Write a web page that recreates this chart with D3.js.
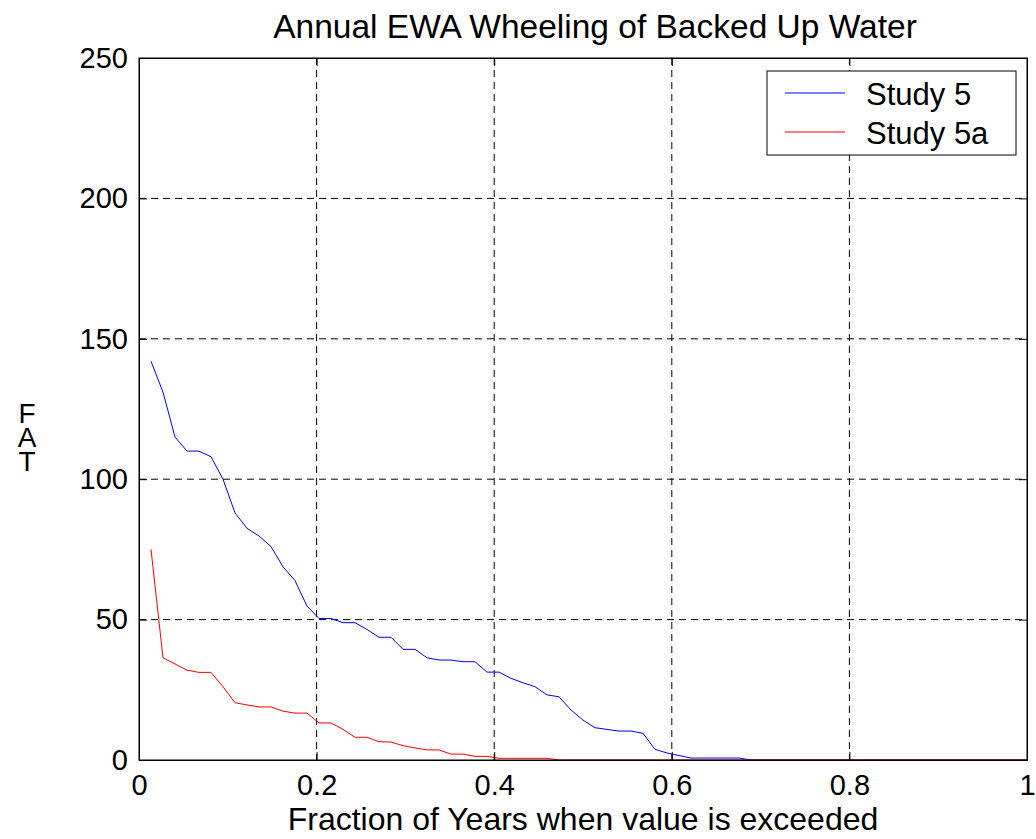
<!DOCTYPE html>
<html><head><meta charset="utf-8">
<script src="https://cdn.jsdelivr.net/npm/d3@7"></script>
<style>body{margin:0;background:#fff}svg{display:block}text{font-family:"Liberation Sans",Arial,sans-serif}</style>
</head><body>
<svg id="c" width="1036" height="839"></svg>
<script>
const study5 = [142,131,115,110,110,108,100,88,82.5,79.8,76,68.8,63.9,54.8,50.4,50.4,48.9,48.9,46.5,43.7,43.7,39.4,39.4,36.4,35.6,35.6,35,35,31.3,31.3,29.1,27.5,26.1,23.2,22.5,17.8,14.2,11.5,10.9,10.3,10.3,9.5,3.8,2.5,1.6,0.7,0.7,0.7,0.7,0.7,0,0,0,0,0,0,0,0,0,0,0,0,0,0,0,0,0,0,0,0,0,0,0,0];
const study5a = [75,36.4,34.2,32,31.2,31.2,26.1,20.4,19.6,18.9,18.9,17.4,16.7,16.7,13.2,13.2,10.9,8.1,8.1,6.5,6.4,5.1,4.3,3.6,3.6,2.1,2.1,1.3,1.3,0.6,0.6,0.6,0.6,0.6,0,0,0,0,0,0,0,0,0,0,0,0,0,0,0,0,0,0,0,0,0,0,0,0,0,0,0,0,0,0,0,0,0,0,0,0,0,0,0,0];
const xTicks = [0,0.2,0.4,0.6,0.8,1];
const yTicks = [0,50,100,150,200,250];
const seriesNames = ["Study 5","Study 5a"];
const seriesColors = ["#0000ff","#ff0000"];

const svg = d3.select("#c");
const L=139,R=1027,T=58,B=760;
const x = d3.scaleLinear().domain([0,1]).range([L,R]);
const y = d3.scaleLinear().domain([0,250]).range([B,T]);

// grid
const g = svg.append("g");
g.selectAll("line.gx").data(xTicks.slice(1,-1)).join("line")
 .attr("x1",d=>x(d)).attr("x2",d=>x(d)).attr("y1",T).attr("y2",B)
 .attr("stroke","#000").attr("stroke-width",1).attr("stroke-dasharray","7,5");
g.selectAll("line.gy").data(yTicks.slice(1,-1)).join("line")
 .attr("y1",d=>y(d)).attr("y2",d=>y(d)).attr("x1",L).attr("x2",R)
 .attr("stroke","#000").attr("stroke-width",1).attr("stroke-dasharray","7,5");

// lines
const n = study5.length;
const line = d3.line().x((d,i)=>x((i+1)/n)).y(d=>y(d));
[study5,study5a].forEach((s,k)=>{
  svg.append("path").datum(s).attr("d",line).attr("fill","none")
   .attr("stroke",seriesColors[k]).attr("stroke-width",1);
});

// axes
const fs = "29px";
svg.append("g").attr("transform",`translate(0,${B})`)
 .call(d3.axisBottom(x).tickValues(xTicks).tickFormat(d=>d).tickSizeInner(-8).tickSizeOuter(0).tickPadding(14));
svg.append("g").attr("transform",`translate(${L},0)`)
 .call(d3.axisLeft(y).tickValues(yTicks).tickSizeInner(-8).tickSizeOuter(0).tickPadding(11));
svg.append("g").attr("transform",`translate(0,${T})`)
 .call(d3.axisTop(x).tickValues(xTicks).tickFormat("").tickSizeInner(-8).tickSizeOuter(0));
svg.append("g").attr("transform",`translate(${R},0)`)
 .call(d3.axisRight(y).tickValues(yTicks).tickFormat("").tickSizeInner(-8).tickSizeOuter(0));
svg.selectAll(".domain").attr("stroke","#000");
svg.selectAll(".tick line").attr("stroke","#000");
svg.selectAll(".tick text").attr("font-size",fs).attr("fill","#000").attr("font-family","Liberation Sans, Arial, sans-serif");
svg.append("rect").attr("x",L).attr("y",T).attr("width",R-L).attr("height",B-T).attr("fill","none").attr("stroke","#000");

// title & labels
svg.append("text").attr("x",595).attr("y",38).attr("text-anchor","middle").attr("font-size","33.5px").text("Annual EWA Wheeling of Backed Up Water");
svg.append("text").attr("x",(L+R)/2).attr("y",830).attr("text-anchor","middle").attr("font-size","32px").text("Fraction of Years when value is exceeded");
const yl = svg.append("text").attr("text-anchor","middle").attr("font-size","28px");
["F","A","T"].forEach((c,i)=>{
  yl.append("tspan").attr("x",27).attr("y",423+i*24).text(c);
});

// legend
const lg = svg.append("g");
lg.append("rect").attr("x",767).attr("y",71).attr("width",249).attr("height",84).attr("fill","#fff").attr("stroke","#000");
seriesNames.forEach((nm,i)=>{
  const yy = 93+i*39;
  lg.append("line").attr("x1",785).attr("x2",845).attr("y1",yy).attr("y2",yy).attr("stroke",seriesColors[i]);
  lg.append("text").attr("x",866).attr("y",yy+12).attr("font-size","31px").text(nm);
});
</script>
</body></html>
